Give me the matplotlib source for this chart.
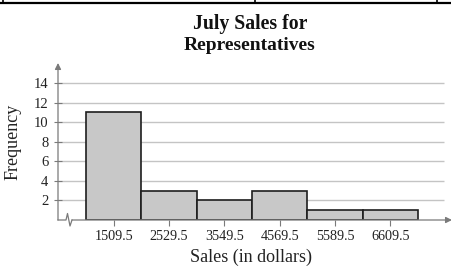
import matplotlib
matplotlib.use("Agg")
from matplotlib import pyplot as plt
from matplotlib.lines import Line2D

# data
sales_mid = [1509.5, 2529.5, 3549.5, 4569.5, 5589.5, 6609.5]
frequency = [11, 3, 2, 3, 1, 1]
class_width = 1020
y_ticks = [2, 4, 6, 8, 10, 12, 14]

plt.rcParams['font.family'] = ['Liberation Serif', 'DejaVu Serif']

W, H = 452, 268
fig = plt.figure(figsize=(W / 100, H / 100), dpi=100)
fig.patch.set_facecolor('white')

# axes box in pixels: x 58..452, y 63..220
ax = fig.add_axes([58 / W, (H - 220) / H, (452 - 58) / W, (220 - 63) / H])
ax.set_xlim(482.7, 7746)
ax.set_ylim(0, 16.04)
for s in ax.spines.values():
    s.set_visible(False)

axis_col = '#7a7a7a'

# grid lines
ax.hlines(y_ticks, 482.7, 7598, color='#c4c4c4', lw=1.0, zorder=0)

# bars
ax.bar(sales_mid, frequency, width=class_width, color='#c8c8c8',
       edgecolor='#1e1e1e', linewidth=1.2, zorder=2)

# y axis with arrow
ax.annotate('', xy=(0, 1.0), xytext=(0, 0), xycoords='axes fraction',
            arrowprops=dict(arrowstyle='-|>', color=axis_col, lw=0.9,
                            mutation_scale=9, shrinkA=0, shrinkB=0))
# x axis with break and arrow
zx = [0, 8 / 394, 9.5 / 394, 12 / 394, 14 / 394]
zy = [0, 0, 6.5 / 157, -6 / 157, 0]
ax.plot(zx, zy, color=axis_col, lw=0.9, transform=ax.transAxes, clip_on=False, zorder=3)
ax.annotate('', xy=(1.0, 0), xytext=(14 / 394, 0), xycoords='axes fraction',
            arrowprops=dict(arrowstyle='-|>', color=axis_col, lw=0.9,
                            mutation_scale=9, shrinkA=0, shrinkB=0))

ax.set_yticks(y_ticks)
ax.set_yticklabels([str(v) for v in y_ticks])
ax.set_xticks(sales_mid)
ax.set_xticklabels([str(v) for v in sales_mid])
ax.tick_params(axis='y', direction='inout', length=6, width=0.8, color=axis_col,
               labelsize=10.5, pad=4, labelcolor='#222222')
ax.tick_params(axis='x', direction='out', length=4, width=0.8, color=axis_col,
               labelsize=10.2, pad=3, labelcolor='#222222')

ax.set_xlabel('Sales (in dollars)', fontsize=13, color='#222222')
ax.xaxis.set_label_coords(0.49, -0.185)
ax.set_ylabel('Frequency', fontsize=13, color='#222222')
ax.yaxis.set_label_coords(-0.093, 0.5)

# title
fig.text(250 / W, 1 - 29 / H, 'July Sales for', ha='center', va='baseline',
         fontsize=14.2, fontweight='bold', color='#111111')
fig.text(250 / W, 1 - 50 / H, 'Representatives', ha='center', va='baseline',
         fontsize=14, fontweight='bold', color='#111111')

# table border remnant at top
fig.add_artist(Line2D([0, 1], [1 - 3 / H, 1 - 3 / H], color='black', lw=1.6))
for px in [3, 255, 437]:
    fig.add_artist(Line2D([px / W, px / W], [1 - 3 / H, 1], color='black', lw=1.2))

plt.savefig('out.png', dpi=100)
